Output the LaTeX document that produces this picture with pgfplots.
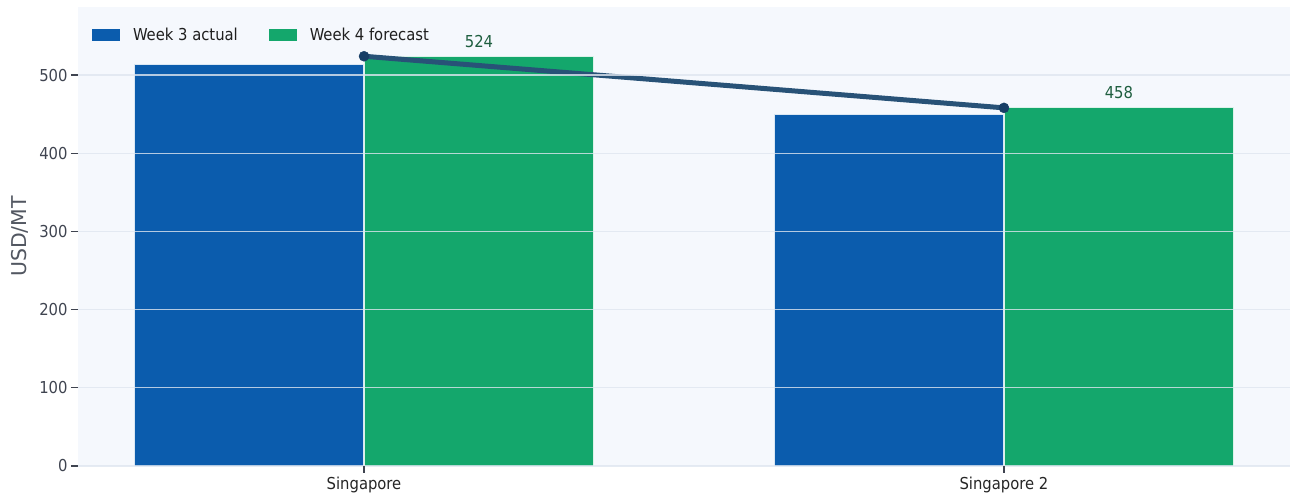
\documentclass[border=0pt]{standalone}
\usepackage{pgfplots}
\pgfplotsset{compat=1.18}
\usepackage{fontspec}
\setmainfont{DejaVu Sans Condensed}
\newfontfamily\dv{DejaVu Sans}
\definecolor{cblue}{HTML}{0B5CAD}
\definecolor{cgreen}{HTML}{14A76C}
\definecolor{cline}{HTML}{285277}
\definecolor{cmark}{HTML}{173E66}
\definecolor{cbg}{HTML}{F5F8FD}
\definecolor{cgrid}{HTML}{DFE6F0}
\definecolor{clab}{HTML}{1E5E3F}
\definecolor{ctick}{HTML}{3F4450}
\begin{document}
\begin{tikzpicture}
\begin{axis}[
  scale only axis,
  width=1212bp, height=459bp,
  xmin=-0.447, xmax=1.447,
  ymin=0, ymax=587,
  ybar,
  bar width=0.359,
  axis background/.style={fill=cbg},
  axis line style={draw=none},
  axis on top,
  xtick={0,1},
  xticklabels={Singapore, Singapore 2},
  ytick={0,100,200,300,400,500},
  xtick pos=bottom, ytick pos=left,
  ymajorgrids,
  major grid style={color=cgrid, opacity=0.8, line width=1.2bp},
  tick align=outside,
  major tick length=7bp,
  tick style={color=ctick, line width=1.2bp},
  /pgf/number format/assume math mode=true,
  tick label style={font=\fontsize{16.5}{19}\selectfont, color=ctick},
  xticklabel style={color=black!85},
  ylabel={\dv USD/MT},
  every axis y label/.style={at={(axis description cs:0,0.5)}, xshift=-58bp, rotate=90, anchor=center, font=\fontsize{20.5}{24}\selectfont, color=ctick!90},
  legend columns=2,
  legend style={draw=none, fill=none, at={(axis cs:-0.43,587)}, anchor=north west, yshift=-17bp,
    font=\fontsize{16.5}{20}\selectfont, column sep=11bp, text=black!88,
    /tikz/every even column/.append style={column sep=29bp}},
  legend image code/.code={\draw[#1, draw=none] (0bp,-6bp) rectangle (28bp,6bp);},
]
\addplot[fill=cblue, draw=white!85!cblue, line width=1bp, bar shift=-115bp] coordinates {(0,514) (1,449)};
\addlegendentry{Week 3 actual}
\addplot[fill=cgreen, draw=white!85!cgreen, line width=1bp, bar shift=115bp,
  nodes near coords,
  every node near coord/.append style={font=\fontsize{16.5}{19}\selectfont, color=clab, anchor=south, yshift=5bp}] coordinates {(0,524) (1,458)};
\addlegendentry{Week 4 forecast}
\addplot[sharp plot, color=cline, line width=5bp, mark=*, mark size=5bp,
  mark options={fill=cmark, draw=cmark, line width=0.5bp}, forget plot] coordinates {(0,524) (1,458)};
\end{axis}
\pgfresetboundingbox
\path[use as bounding box] (-78bp,-38bp) rectangle (1212bp,466bp);
\end{tikzpicture}
\end{document}
